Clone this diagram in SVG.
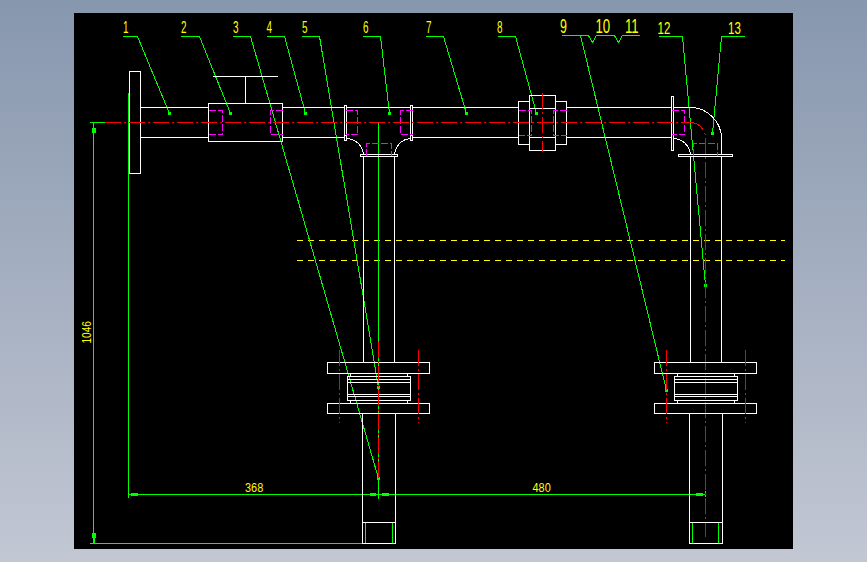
<svg xmlns="http://www.w3.org/2000/svg" width="867" height="562" viewBox="0 0 867 562">
<style>
path,rect{shape-rendering:crispEdges}
.w{fill:none;stroke:#fff;stroke-width:1}
.g{fill:none;stroke:#00ff00;stroke-width:1}
.gf{fill:#00ff00;stroke:none}
.r{fill:none;stroke:#ff0000;stroke-width:1;stroke-dasharray:16 3 2 3}
.rl{fill:none;stroke:#ff0000;stroke-width:1;stroke-dasharray:16 3 2 3}
.m{fill:none;stroke:#ff00ff;stroke-width:1;stroke-dasharray:7 2}
.y{fill:none;stroke:#ffff00;stroke-width:1;stroke-dasharray:6 5}
text{font-family:"Liberation Sans",Arial,sans-serif;fill:#ffff00;font-size:16px}
</style>
<defs>
<linearGradient id="bg" x1="0" y1="0" x2="0" y2="1"><stop offset="0" stop-color="#8797ae"/><stop offset="1" stop-color="#c2c7d3"/></linearGradient>
<g id="joint">
<rect class="w" x="0" y="0" width="102" height="11"/>
<rect class="w" x="0" y="41" width="102" height="10"/>
<path class="w" d="M23 11V14H80V11M23 41V38H80V41"/>
<rect class="w" x="20" y="14" width="63" height="24"/>
<path class="w" d="M20 17H83M20 20H83M20 32H83M20 34H83"/>
</g>
</defs>
<rect width="867" height="562" fill="url(#bg)"/>
<rect x="74" y="13" width="719" height="536" fill="#000"/>

<g id="guides">
<path class="y" d="M297 240.5H785M297 260.5H785"/>
</g>

<g id="connectors">
<path class="g" d="M123 36.5H137.5L169.5 113.5"/>
<path class="g" d="M181 36.5H199.5L230.5 113.5"/>
<path class="g" d="M233 36.5H250.5L378.5 478.5"/>
<path class="g" d="M267 36.5H284.5L305.5 113.5"/>
<path class="g" d="M302 36.5H319.5L378.5 387.5"/>
<path class="g" d="M363 36.5H380.5L389.5 113.5"/>
<path class="g" d="M426 36.5H443.5L466.5 113.5"/>
<path class="g" d="M498 36.5H515.5L536.5 113.5"/>
<path class="g" d="M562 35.5H580.5L666.5 390.5"/>
<path class="g" d="M580 35.5H588.5L592.5 42.5L596.5 35.5H614.5L618.5 42.5L622.5 35.5H640"/>
<path class="g" d="M659 36.5H682.5L705.5 285.5"/>
<path class="g" d="M745 36.5H721.5L712.5 133.5"/>
<g class="gf">
<rect x="168" y="112" width="3" height="3"/><rect x="229" y="112" width="3" height="3"/>
<rect x="304" y="112" width="3" height="3"/><rect x="388" y="112" width="3" height="3"/>
<rect x="465" y="112" width="3" height="3"/>
<rect x="535" y="112" width="3" height="3"/><rect x="377" y="477" width="3" height="3"/>
<rect x="377" y="386" width="3" height="3"/><rect x="665" y="389" width="3" height="3"/>
<rect x="704" y="284" width="3" height="3"/><rect x="711" y="132" width="3" height="3"/>
</g>
<path class="g" d="M93.5 122.5V543.5M90 122.5H105M90 543.5H395M128.5 93V498M128.5 494.5H705.5M378.5 122V498.5M705.5 491V497"/>
<path class="g" d="M365.5 522.5V543M392.5 522.5V543M692.5 522.5V543M718.5 522.5V543"/>
<g class="gf">
<rect x="92" y="128" width="4" height="5"/><rect x="92" y="533" width="4" height="5"/><rect x="93" y="538" width="2" height="5.5"/>
<rect x="131" y="493" width="6.5" height="3"/><rect x="369.5" y="493" width="6.5" height="3"/><rect x="382" y="493" width="6.5" height="3"/><rect x="696" y="493" width="6.5" height="3"/>
</g>
</g>

<g id="flange-1">
<rect class="w" x="129.5" y="71.5" width="11" height="102"/>
</g>
<g id="pipe-1">
<path class="w" d="M140.5 107.5H208.5M140.5 137.5H208.5"/>
</g>
<g id="valve">
<rect class="w" x="208.5" y="103.5" width="74" height="38"/>
<path class="w" d="M245.5 103.5V76.5M213 76.5H278"/>
<path class="m" d="M208.5 110.5H222.5V134.5H208.5"/>
<path class="m" d="M282.5 110.5H270.5V134.5H282.5"/>
</g>
<g id="pipe-2">
<path class="w" d="M282.5 107.5H344.5M282.5 137.5H344.5"/>
</g>
<g id="tee">
<rect class="w" x="344.5" y="105.5" width="2" height="30"/>
<rect class="w" x="344.5" y="135.5" width="2" height="5"/>
<rect class="w" x="410.5" y="105.5" width="2" height="30"/>
<rect class="w" x="410.5" y="135.5" width="2" height="5"/>
<path class="w" d="M347 107.5H410.5M413 107.5H518.5M413 137.5H518.5"/>
<path class="w" d="M347 138.5Q361 140 363.5 154.5M410.5 138.5Q397 140 394.5 154.5"/>
<rect class="w" x="360.5" y="154.5" width="37" height="2"/>
<path class="m" d="M345.5 110.5H357.5V134.5H345.5"/>
<path class="m" d="M412.5 110.5H400.5V134.5H412.5"/>
<path class="m" d="M366.5 156V143.5H391.5V156"/>
</g>
<g id="pipe-left">
<path class="w" d="M363.5 157V362.5M394.5 157V362.5"/>
</g>
<g id="joint-left">
<use href="#joint" x="327.5" y="362.5"/>
<path class="rl" d="M339.5 350V423M418.5 350V423"/>
</g>
<g id="pipe-left-lower">
<path class="w" d="M362.5 413.5V543.5M395.5 413.5V543.5M362.5 522.5H395.5M362.5 543.5H395.5"/>
<path class="rl" d="M378.5 342V478"/>
</g>
<g id="union">
<rect class="w" x="518.5" y="101.5" width="10.5" height="43"/>
<rect class="w" x="529.5" y="95.5" width="26" height="55"/>
<rect class="w" x="555.5" y="101.5" width="11" height="43"/>
<path class="w" d="M529 108.5H555.5M529 137.5H555.5"/>
<path class="m" d="M518.5 110.5H531.5V135.5H518.5"/>
<path class="m" d="M566.5 110.5H553.5V135.5H566.5"/>
<path class="rl" d="M542.5 93V152"/>
</g>
<g id="elbow">
<path class="w" d="M566.5 107.5H671.5M566.5 137.5H671.5"/>
<rect class="w" x="671.5" y="96.5" width="2" height="54"/>
<path class="w" d="M673.7 107.5H690A31.3 31.3 0 0 1 721.5 139V154.5M673.7 138.5Q688 140 690.5 154.5"/>
<rect class="w" x="678.5" y="154.5" width="54" height="2"/>
<path class="m" d="M671.5 110.5H684.5V134.5H671.5"/>
<path class="m" d="M693.5 156V143.5H717.5V156"/>
</g>
<g id="centerline">
<path class="r" d="M105 122.5H690"/>
<path class="rl" d="M690 122.5A15.5 15.5 0 0 1 705.5 138V537"/>
</g>
<g id="pipe-right">
<path class="w" d="M690.5 157V362.5M721.5 157V362.5"/>
</g>
<g id="joint-right">
<use href="#joint" x="654.5" y="362.5"/>
<path class="rl" d="M666.5 350V423M745.5 350V423"/>
</g>
<g id="pipe-right-lower">
<path class="w" d="M689.5 413.5V543.5M722.5 413.5V543.5M689.5 522.5H722.5M689.5 543.5H722.5"/>
</g>

<g id="labels">
<text transform="translate(123 33) scale(.62 1)">1</text>
<text transform="translate(181 33) scale(.62 1)">2</text>
<text transform="translate(233 33) scale(.62 1)">3</text>
<text transform="translate(266.5 33) scale(.62 1)">4</text>
<text transform="translate(302 33) scale(.62 1)">5</text>
<text transform="translate(363 33) scale(.62 1)">6</text>
<text transform="translate(426 33) scale(.62 1)">7</text>
<text transform="translate(497 33) scale(.62 1)">8</text>
<text style="font-size:20px" transform="translate(560 32.7) scale(.62 1)">9</text>
<text style="font-size:20px" transform="translate(595.5 32.7) scale(.66 1)">10</text>
<text style="font-size:20px" transform="translate(625 32.7) scale(.66 1)">11</text>
<text transform="translate(657.5 33.5) scale(.72 1)">12</text>
<text transform="translate(728 33.5) scale(.72 1)">13</text>
<text transform="translate(90.5 343.5) rotate(-90) scale(.72 .95)" style="font-size:14px">1046</text>
<text transform="translate(245 492) scale(.78 .95)" style="font-size:14px">368</text>
<text transform="translate(532.5 492) scale(.78 .95)" style="font-size:14px">480</text>
</g>
</svg>
